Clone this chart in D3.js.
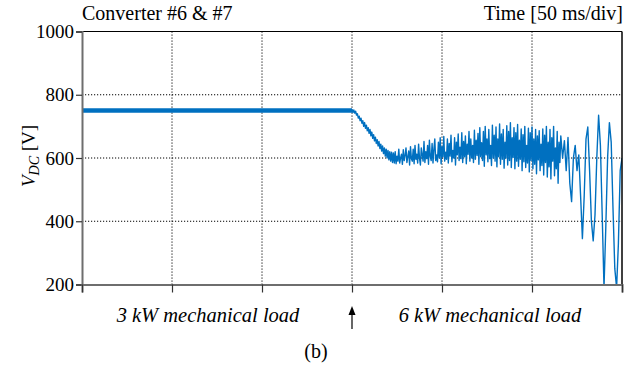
<!DOCTYPE html>
<html>
<head>
<meta charset="utf-8">
<script src="https://cdn.jsdelivr.net/npm/d3@7"></script>
<style>
  html, body { margin: 0; padding: 0; background: #fff; }
  svg text { font-family: "Liberation Serif", "Times New Roman", "DejaVu Serif", serif; }
</style>
</head>
<body>
<svg id="chart" width="640" height="367"></svg>
<script>
// time axis: 6 divisions of 50 ms
const timeTicks = [0, 50, 100, 150, 200, 250, 300];
const voltTicks = [200, 400, 600, 800, 1000];
const gridTimes = [50, 100, 150, 200, 250];
const gridVolts = [400, 600, 800];

// 3 kW load, before the step (ms, V)
const vdcBefore = [
  [0, 750], [150, 750],
];

// 6 kW load from the step at 150 ms, one sample every 0.5 ms (V)
const stepTime = 150;
const vdcBand = [
  754, 744, 752, 742, 748, 736, 740, 726, 732, 718,
  726, 710, 718, 700, 712, 694, 704, 686, 696, 678,
  690, 670, 682, 662, 674, 654, 666, 646, 658, 638,
  652, 630, 644, 622, 638, 614, 632, 606, 628, 600,
  624, 594, 620, 590, 618, 586, 616, 584, 620, 582,
  606, 590, 628, 584, 600, 612, 580, 626, 592, 608,
  632, 586, 604, 622, 578, 636, 598, 590, 628, 582,
  640, 596, 612, 584, 644, 600, 578, 632, 610, 590,
  652, 586, 620, 598, 640, 580, 656, 604, 592, 646,
  584, 628, 660, 592, 610, 588, 650, 600, 664, 582,
  636, 604, 668, 590, 618, 596, 660, 584, 646, 606,
  672, 588, 624, 600, 664, 578, 650, 610, 676, 592,
  634, 598, 680, 586, 652, 604, 670, 582, 644, 612,
  684, 590, 660, 600, 640, 586, 688, 596, 656, 608,
  678, 580, 696, 604, 648, 592, 684, 574, 700, 610,
  660, 588, 690, 598, 640, 576, 704, 600, 672, 590,
  698, 572, 660, 604, 708, 580, 676, 596, 690, 568,
  650, 600, 702, 578, 684, 592, 712, 570, 664, 602,
  696, 566, 680, 590, 706, 574, 656, 596, 692, 560,
  674, 588, 700, 570, 640, 584, 694, 556, 680, 592,
  698, 566, 660, 580, 690, 550, 670, 594, 686, 560,
  644, 576, 692, 546, 672, 586, 700, 540, 650, 572,
  690, 534, 664, 590, 700, 544, 632, 566, 684, 520,
  650, 586,
];

// unstable tail, one sample per ms from 266 ms (V)
const tailStart = 266;
const vdcTail = [
  670, 600, 655, 560, 665, 520, 462, 600, 640, 560,
  610, 480, 345, 480, 660, 698, 560, 400, 338, 420,
  600, 735, 640, 420, 190, 380, 600, 712, 650, 440,
  250, 190, 330, 560, 600,
];

const margin = { top: 31.5, left: 82 };
const chartWidth = 540;
const chartHeight = 253;

const svg = d3.select('#chart');

const g = svg
  .append('g')
  .attr('transform', `translate(${margin.left},${margin.top})`);

const x = d3.scaleLinear().domain([0, 300]).range([0, chartWidth]);
const y = d3.scaleLinear().domain([200, 1000]).range([chartHeight, 0]);

g.append('clipPath')
  .attr('id', 'plot-clip')
  .append('rect')
  .attr('width', chartWidth)
  .attr('height', chartHeight);

//
// GRID
//

g.selectAll('.vgrid')
  .data(gridTimes)
  .join('line')
  .attr('x1', (d) => x(d))
  .attr('x2', (d) => x(d))
  .attr('y1', 0)
  .attr('y2', chartHeight)
  .attr('stroke', '#000')
  .attr('stroke-width', 1)
  .attr('stroke-dasharray', '1.2,1.8');

g.selectAll('.hgrid')
  .data(gridVolts)
  .join('line')
  .attr('x1', 0)
  .attr('x2', chartWidth)
  .attr('y1', (d) => y(d))
  .attr('y2', (d) => y(d))
  .attr('stroke', '#000')
  .attr('stroke-width', 1)
  .attr('stroke-dasharray', '1.2,1.8');

//
// TRACE
//

const trace = g.append('g').attr('clip-path', 'url(#plot-clip)');

const line = d3
  .line()
  .x((d) => x(d[0]))
  .y((d) => y(d[1]));

trace
  .append('path')
  .datum(vdcBefore)
  .attr('fill', 'none')
  .attr('stroke', '#0070c0')
  .attr('stroke-width', 4.5)
  .attr('d', line);

const after = vdcBand
  .map((v, i) => [stepTime + i * 0.5, v])
  .concat(vdcTail.map((v, i) => [tailStart + i, v]));

trace
  .append('path')
  .datum(after)
  .attr('fill', 'none')
  .attr('stroke', '#0070c0')
  .attr('stroke-width', 1.4)
  .attr('stroke-linejoin', 'round')
  .attr('d', line);

//
// FRAME + AXES
//

g.append('line')
  .attr('x1', 0).attr('x2', chartWidth)
  .attr('y1', 0).attr('y2', 0)
  .attr('stroke', '#000');

g.append('line')
  .attr('x1', chartWidth).attr('x2', chartWidth)
  .attr('y1', 0).attr('y2', chartHeight)
  .attr('stroke', '#000')
  .attr('stroke-width', 1.5);

const yAxis = g
  .append('g')
  .call(
    d3.axisLeft(y)
      .tickValues(voltTicks)
      .tickSize(6)
      .tickPadding(2)
      .tickFormat(d3.format('d')),
  );

const xAxis = g
  .append('g')
  .attr('transform', `translate(0,${chartHeight})`)
  .call(d3.axisBottom(x).tickValues(timeTicks).tickSize(8).tickFormat(() => ''));

[yAxis, xAxis].forEach((a) => {
  a.attr('font-family', null);
  a.select('.domain').attr('stroke', '#6e6e6e').attr('stroke-width', 2);
  a.selectAll('.tick line').attr('stroke', '#333').attr('stroke-width', 1.2);
});

yAxis
  .selectAll('.tick text')
  .attr('fill', '#000')
  .style('font-size', '19px');

//
// LABELS
//

svg.append('text')
  .attr('x', 82)
  .attr('y', 20)
  .style('font-size', '20px')
  .text('Converter #6 & #7');

svg.append('text')
  .attr('x', 623)
  .attr('y', 20)
  .attr('text-anchor', 'end')
  .style('font-size', '20px')
  .text('Time [50 ms/div]');

const yLabel = svg.append('text')
  .attr('transform', 'translate(35,156) rotate(-90)')
  .attr('text-anchor', 'middle')
  .style('font-size', '19px');
yLabel.append('tspan').style('font-style', 'italic').text('V');
yLabel.append('tspan').style('font-style', 'italic').style('font-size', '14px').attr('dy', 4).text('DC');
yLabel.append('tspan').attr('dy', -4).text(' [V]');

svg.append('text')
  .attr('x', 208)
  .attr('y', 322)
  .attr('text-anchor', 'middle')
  .style('font-size', '20.5px')
  .style('font-style', 'italic')
  .text('3 kW mechanical load');

svg.append('text')
  .attr('x', 490)
  .attr('y', 322)
  .attr('text-anchor', 'middle')
  .style('font-size', '20.5px')
  .style('font-style', 'italic')
  .text('6 kW mechanical load');

// load step marker
const arrowX = margin.left + x(stepTime);
svg.append('line')
  .attr('x1', arrowX).attr('x2', arrowX)
  .attr('y1', 314).attr('y2', 329)
  .attr('stroke', '#000')
  .attr('stroke-width', 1.2);
svg.append('path')
  .attr('d', `M${arrowX},306 L${arrowX - 3.5},315 L${arrowX + 3.5},315 Z`)
  .attr('fill', '#000');

svg.append('text')
  .attr('x', 316)
  .attr('y', 358)
  .attr('text-anchor', 'middle')
  .style('font-size', '20px')
  .text('(b)');
</script>
</body>
</html>
